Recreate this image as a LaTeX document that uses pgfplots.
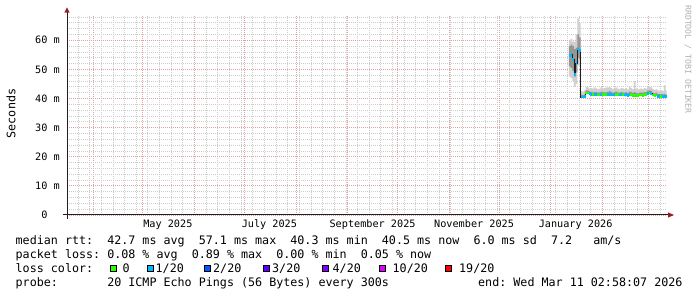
\documentclass[border=0pt]{standalone}
\usepackage{fontspec}
\setmainfont{DejaVu Sans Mono}
\usepackage{pgfplots}
\pgfplotsset{compat=1.18}
\usepgfplotslibrary{fillbetween}
\usepackage{pgfplotstable}
\frenchspacing
\definecolor{mgrid}{RGB}{228,160,160}
\definecolor{ngrid}{RGB}{205,205,205}
\definecolor{arrowc}{RGB}{150,30,30}
\definecolor{axisc}{RGB}{31,31,31}
\definecolor{l0}{RGB}{38,255,0}
\definecolor{l1}{RGB}{0,184,255}
\definecolor{l2}{RGB}{0,89,255}
\definecolor{l3}{RGB}{94,0,255}
\definecolor{l4}{RGB}{126,0,255}
\definecolor{l10}{RGB}{221,0,255}
\definecolor{l19}{RGB}{255,0,0}
\definecolor{smokeA}{RGB}{208,208,208}
\definecolor{smokeB}{RGB}{150,150,150}
\definecolor{rrdgray}{RGB}{175,175,175}
\pgfdeclareplotmark{hbar}{\pgfpathrectangle{\pgfqpoint{-0.95pt}{-1.4pt}}{\pgfqpoint{1.9pt}{2.8pt}}\pgfusepathqfill}

\pgfplotstableread{
x a b c d m L
256 47.5 51.0 58.0 60.0 54.9 c
257 47.0 50.5 58.5 60.5 55.2 c
258 46.0 49.5 58.0 59.5 53.5 c
259 44.0 47.5 57.0 59.5 48.3 c
260 45.0 49.0 57.5 62.0 52.0 c
261 51.5 54.0 62.0 67.5 57.0 c
262 51.0 53.5 61.0 66.0 56.5 c
263 40.2 40.4 41.3 42.6 40.5 c
264 40.2 40.4 41.2 42.4 40.5 c
265 40.3 40.5 41.4 42.8 40.6 c
266 41.5 41.8 42.8 44.0 41.9 g
267 41.5 41.8 42.7 43.8 41.9 g
268 41.3 41.5 42.4 43.5 41.6 c
269 41.2 41.4 42.3 43.6 41.5 c
270 41.0 41.2 42.1 43.4 41.3 g
271 41.1 41.3 42.3 43.8 41.4 c
272 41.0 41.2 42.2 43.5 41.3 c
273 40.9 41.1 42.0 43.2 41.2 g
274 40.9 41.1 42.1 43.4 41.2 g
275 41.2 41.4 42.4 43.9 41.5 c
276 41.1 41.3 42.2 43.5 41.4 g
277 41.0 41.2 42.1 43.6 41.3 g
278 41.0 41.2 42.2 43.8 41.3 g
279 41.1 41.3 42.3 43.7 41.4 c
280 41.2 41.4 42.5 44.0 41.5 c
281 41.0 41.2 42.2 43.6 41.3 c
282 40.9 41.1 42.0 43.3 41.2 c
283 41.1 41.3 42.3 43.7 41.4 c
284 41.2 41.4 42.4 43.8 41.5 g
285 41.0 41.2 42.1 43.4 41.3 g
286 40.9 41.1 42.0 43.3 41.2 c
287 41.1 41.3 42.2 43.6 41.4 c
288 41.0 41.2 42.1 43.5 41.3 g
289 40.9 41.1 42.0 43.2 41.2 c
290 41.0 41.2 42.2 43.6 41.3 c
291 40.8 41.0 41.9 43.1 41.1 c
292 41.2 41.4 42.4 44.0 41.5 c
293 41.0 41.2 42.2 43.6 41.3 g
294 40.7 40.9 41.9 43.2 41.0 g
295 40.8 41.0 42.2 46.0 41.1 g
296 40.7 40.9 41.9 43.4 41.0 g
297 40.7 40.9 41.8 43.1 41.0 g
298 40.9 41.1 42.0 43.3 41.2 g
299 40.9 41.1 42.1 43.5 41.2 g
300 40.8 41.0 42.0 43.2 41.1 g
301 41.0 41.2 42.2 43.6 41.3 g
302 41.0 41.2 42.2 43.4 41.3 g
303 41.5 41.7 42.7 44.2 41.8 c
304 41.6 41.8 42.8 44.0 41.9 g
305 41.5 41.7 42.6 43.8 41.8 c
306 40.9 41.1 42.0 43.3 41.2 g
307 40.7 40.9 41.8 43.0 41.0 g
308 40.9 41.1 42.0 43.2 41.2 g
309 40.5 40.7 41.6 42.8 40.8 c
310 40.4 40.6 41.5 42.7 40.7 c
311 40.5 40.7 41.6 42.9 40.8 g
312 40.3 40.5 41.4 42.6 40.6 c
313 40.3 40.5 41.5 44.5 40.6 c
314 40.3 40.5 41.4 42.7 40.6 c
314.6 40.3 40.5 41.4 42.7 40.6 c
}\smoke

\begin{document}
\begin{tikzpicture}[x=1pt,y=1pt]
\begin{axis}[
  at={(67pt,82pt)}, anchor=south west,
  scale only axis, width=600pt, height=200pt,
  xmin=-45.6, xmax=314.9, ymin=0, ymax=68.68,
  axis lines*=left, axis line style={draw=none},
  major tick length=0pt, minor tick length=0pt,
  xtick={-30,0,31,61,92,123,153,184,214,245,276,304},
  xticklabels={},
  minor xtick={-39,-32,...,311},
  extra x ticks={15,76,138,199,260},
  extra x tick labels={May 2025,July 2025,September 2025,November 2025,January 2026},
  extra x tick style={grid=none, major tick length=0pt},
  ytick={0,10,20,30,40,50,60},
  yticklabels={0\phantom{00},10 m,20 m,30 m,40 m,50 m,60 m},
  minor ytick={2,4,...,68},
  grid=both,
  major grid style={draw=mgrid, line width=0.8pt, dash pattern=on 1pt off 1pt},
  minor grid style={draw=ngrid, line width=0.8pt, dash pattern=on 1pt off 1pt},
  xticklabel style={font=\fontsize{10.2}{12}\selectfont, anchor=base, inner sep=0pt, yshift=-13pt},
  yticklabel style={font=\fontsize{10.2}{12}\selectfont, anchor=east, inner sep=0pt, xshift=-7pt},
]
\addplot[name path=D, draw=none, const plot] table[x=x,y=d]{\smoke};
\addplot[name path=A, draw=none, const plot] table[x=x,y=a]{\smoke};
\addplot[fill=smokeA, draw=none] fill between[of=D and A];
\addplot[name path=C, draw=none, const plot] table[x=x,y=c]{\smoke};
\addplot[name path=B, draw=none, const plot] table[x=x,y=b]{\smoke};
\addplot[fill=smokeB, draw=none] fill between[of=C and B];
\addplot[const plot, axisc, line width=0.8pt] table[x=x,y=m]{\smoke};
\addplot[scatter, only marks, scatter src=explicit symbolic,
  scatter/classes={g={mark=hbar, fill=l0, draw=none}, c={mark=hbar, fill=l1, draw=none}},
  restrict x to domain=250:314.9]
  table[x expr=\thisrow{x}+0.5, y=m, meta=L]{\smoke};
\end{axis}
% axis lines and arrows
\draw[axisc, line width=1pt] (63,82) -- (669,82);
\fill[arrowc] (668,84.6) -- (674,82) -- (668,79.4) -- cycle;
\draw[axisc, line width=1pt] (67,78) -- (67,285);
\fill[arrowc] (64.4,284.3) -- (67,289.5) -- (69.6,284.3) -- cycle;
% titles
\node[rotate=90, font=\fontsize{11.7}{14}\selectfont, inner sep=0pt] at (11,183.5) {Seconds};
\node[rotate=-90, anchor=west, font=\fontsize{8.2}{10}\selectfont, text=rrdgray, inner sep=0pt] at (688,292) {RRDTOOL / TOBI OETIKER};
% legend
\begin{scope}[every node/.style={anchor=base west, inner sep=0pt, font=\fontsize{11.7}{14}\selectfont}]
\node at (15.5,52.8) {median rtt:~~42.7 ms avg~~57.1 ms max~~40.3 ms min~~40.5 ms now~~6.0 ms sd~~7.2~~~am/s};
\node at (15.5,38.8) {packet loss: 0.08 \% avg~~0.89 \% max~~0.00 \% min~~0.05 \% now};
\node at (15.5,24.8) {loss color:};
\node at (15.5,10.7) {probe:~~~~~~~20 ICMP Echo Pings (56 Bytes) every 300s};
\node at (478,10.7) {end: Wed Mar 11 02:58:07 2026};
\foreach \xs/\xt/\col/\lab in {110/122.5/l0/0, 147/155.5/l1/1\slash 20, 204/213/l2/2\slash 20, 263/272/l3/3\slash 20, 322/332.5/l4/4\slash 20, 379/392.5/l10/10\slash 20, 445/459/l19/19\slash 20}{
  \draw[fill=\col, draw=black, line width=0.8pt] (\xs+0.4,25.4) rectangle (\xs+6.6,31.8);
  \node at (\xt,24.8) {\lab};
}
\end{scope}
\pgfresetboundingbox
\useasboundingbox (0,0) rectangle (697,297);
\end{tikzpicture}
\end{document}
